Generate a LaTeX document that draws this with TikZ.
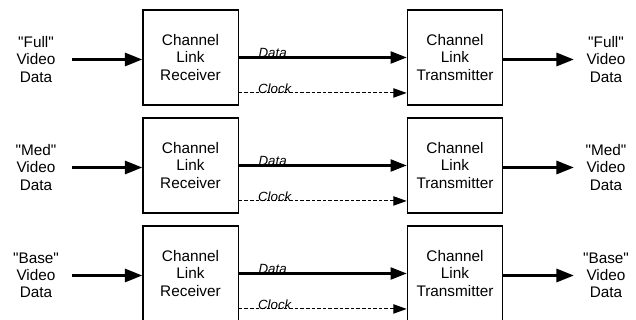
\documentclass[tikz,border=0pt]{standalone}
\usepackage{fontspec}
\setmainfont{Liberation Sans}[Ligatures=TeXOff]
\usetikzlibrary{positioning, arrows.meta}

\tikzset{
  chbox/.style={rectangle, draw, line width=1pt, minimum width=71.5pt,
        minimum height=71.25pt, align=center, inner sep=0pt,
        font=\fontsize{11.5}{12.9}\selectfont},
  vidin/.style={align=center, minimum width=54pt, inner sep=0pt,
        font=\fontsize{11.5}{12.9}\selectfont},
  vidout/.style={align=center, minimum width=48pt, inner sep=0pt,
        font=\fontsize{11.5}{12.9}\selectfont},
  bus/.style={line width=1.6pt, -{Triangle[length=13pt, width=10pt]}},
  datbus/.style={line width=1.6pt, -{Triangle[length=12pt, width=9pt]}},
  clk/.style={line width=0.8pt, dash pattern=on 2.6pt off 1.6pt,
        -{Triangle[length=10pt, width=7pt]}},
  sig/.style={font=\itshape\fontsize{10}{10}\selectfont, inner sep=0pt,
        anchor=south west, pos=0, xshift=14pt, yshift=-0.6pt}
}

\begin{document}
\begin{tikzpicture}[x=0.75pt, y=-0.75pt]
  \useasboundingbox (0,0) rectangle (636,320);

  % full
  \node[chbox] (rx1) at (190.5,57.5) {Channel\\Link\\Receiver};
  \node[chbox] (tx1) at (455,57.5) {Channel\\Link\\Transmitter};
  \node[vidin] (vin1) at (36,59.5) {"Full"\\Video\\Data};
  \node[vidout] (vout1) at (606,59.5) {"Full"\\Video\\Data};
  \draw[bus] (vin1.east) -- (vin1.east -| rx1.west);
  \draw[datbus] (rx1) -- (tx1) node[sig] {Data};
  \draw[clk] ([yshift=-26.6pt]rx1.east) -- ([yshift=-26.6pt]tx1.west)
        node[sig] {Clock};
  \draw[bus] (tx1.east |- vout1) -- (vout1.west);

  % med
  \node[chbox] (rx2) at (190.5,165.5) {Channel\\Link\\Receiver};
  \node[chbox] (tx2) at (455,165.5) {Channel\\Link\\Transmitter};
  \node[vidin] (vin2) at (36,167.5) {"Med"\\Video\\Data};
  \node[vidout] (vout2) at (606,167.5) {"Med"\\Video\\Data};
  \draw[bus] (vin2.east) -- (vin2.east -| rx2.west);
  \draw[datbus] (rx2) -- (tx2) node[sig] {Data};
  \draw[clk] ([yshift=-26.6pt]rx2.east) -- ([yshift=-26.6pt]tx2.west)
        node[sig] {Clock};
  \draw[bus] (tx2.east |- vout2) -- (vout2.west);

  % base
  \node[chbox] (rx3) at (190.5,273.5) {Channel\\Link\\Receiver};
  \node[chbox] (tx3) at (455,273.5) {Channel\\Link\\Transmitter};
  \node[vidin] (vin3) at (36,275.5) {"Base"\\Video\\Data};
  \node[vidout] (vout3) at (606,275.5) {"Base"\\Video\\Data};
  \draw[bus] (vin3.east) -- (vin3.east -| rx3.west);
  \draw[datbus] (rx3) -- (tx3) node[sig] {Data};
  \draw[clk] ([yshift=-26.6pt]rx3.east) -- ([yshift=-26.6pt]tx3.west)
        node[sig] {Clock};
  \draw[bus] (tx3.east |- vout3) -- (vout3.west);
\end{tikzpicture}
\end{document}
